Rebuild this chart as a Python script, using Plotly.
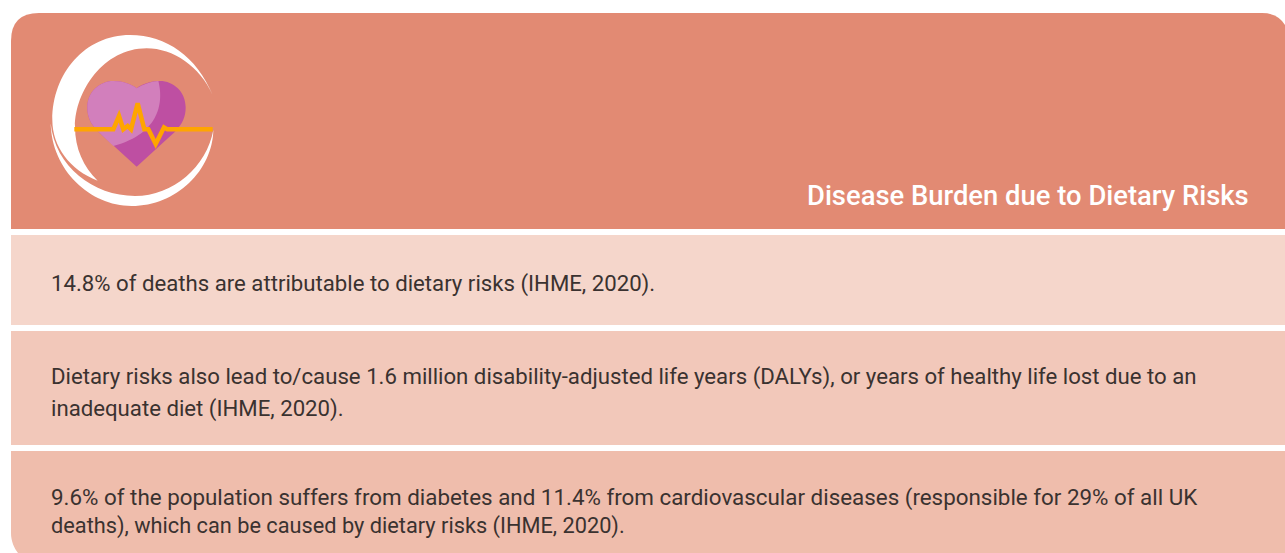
import plotly.graph_objects as go

W, H = 1285, 553
TITLE = "Disease Burden due to Dietary Risks"
ROW_LINES = [
    ["14.8% of deaths are attributable to dietary risks (IHME, 2020)."],
    ["Dietary risks also lead to/cause 1.6 million disability-adjusted life years (DALYs), or years of healthy life lost due to an",
     "inadequate diet (IHME, 2020)."],
    ["9.6% of the population suffers from diabetes and 11.4% from cardiovascular diseases (responsible for 29% of all UK",
     "deaths), which can be caused by dietary risks (IHME, 2020)."],
]
ROW_BASE_Y = [[283], [376, 408], [497, 526]]
ROW_SIZES = [[22.2], [22.2, 22.2], [22.38, 21.75]]
FONT = "Roboto"

def icon_path(cmds):
    # icon drawn on a 3x grid with origin at (30, 20)
    out = []
    for c in cmds:
        out.append(c[0] + " " + " ".join(f"{30 + c[i] / 3:.2f},{20 + c[i + 1] / 3:.2f}" for i in range(1, len(c), 2)))
    return " ".join(out) + " Z"

def shape(path, color):
    return dict(type="path", path=path, fillcolor=color, line=dict(width=0), layer="below")

shapes = [
    shape("M 11,229 L 11,41 Q 11,13 39,13 L 1262,13 Q 1278,13 1285,25 L 1285,229 Z", "#E28A73"),
    shape("M 11,235 L 1285,235 L 1285,325 L 11,325 Z", "#F5D6CB"),
    shape("M 11,331 L 1285,331 L 1285,445 L 11,445 Z", "#F2C8BA"),
    shape("M 11,451 L 1285,451 L 1285,553 L 18,553 C 14,548 11,541 11,533 Z", "#EFBDAC"),
    shape(icon_path([("M", 548, 225), ("C", 500, 110, 410, 45, 300, 45), ("C", 165, 45, 67, 160, 67, 300),
                     ("C", 67, 380, 120, 450, 203, 482), ("C", 160, 440, 135, 385, 135, 320),
                     ("C", 135, 215, 220, 85, 350, 85), ("C", 430, 85, 510, 140, 548, 225)]), "#FFFFFF"),
    shape(icon_path([("M", 62, 310), ("C", 65, 450, 180, 558, 305, 558), ("C", 440, 558, 548, 450, 550, 330),
                     ("C", 530, 440, 430, 528, 315, 528), ("C", 190, 528, 75, 440, 62, 310)]), "#FFFFFF"),
    shape(icon_path([("M", 320, 440), ("L", 205, 335), ("C", 180, 310, 172, 290, 172, 262),
                     ("C", 172, 215, 210, 183, 250, 183), ("C", 280, 183, 305, 193, 320, 205),
                     ("C", 335, 193, 360, 183, 390, 183), ("C", 430, 183, 467, 215, 467, 262),
                     ("C", 467, 290, 458, 312, 435, 335)]), "#BE4FA2"),
    shape(icon_path([("M", 250, 378), ("L", 205, 335), ("C", 180, 310, 172, 290, 172, 262),
                     ("C", 172, 215, 210, 183, 250, 183), ("C", 280, 183, 305, 193, 320, 205),
                     ("C", 340, 193, 360, 185, 385, 183), ("C", 400, 240, 395, 340, 250, 378)]), "#D27FBC"),
]
ecg = [(133,328),(250,328),(267,288),(280,328),(293,318),(303,328),(323,250),(343,328),(355,328),(377,372),(402,322),(412,328),(548,328)]
shapes.append(dict(type="path", layer="below",
                   path="M " + " L ".join(f"{30 + x / 3:.2f},{20 + y / 3:.2f}" for x, y in ecg),
                   line=dict(color="#FFA500", width=4.5)))

ann = [dict(x=1251, y=196, xref="x", yref="y", text=TITLE, showarrow=False, xanchor="right", yanchor="middle",
            font=dict(family=FONT, size=27.4, weight=500, color="#FFFFFF"))]
for lines, ys, sizes in zip(ROW_LINES, ROW_BASE_Y, ROW_SIZES):
    for t, y, s in zip(lines, ys, sizes):
        ann.append(dict(x=49, y=y, xref="x", yref="y", text=t, showarrow=False, xanchor="left", yanchor="middle",
                        font=dict(family=FONT, size=s, color="#3A3230")))

fig = go.Figure()
fig.update_layout(width=W, height=H, margin=dict(l=0, r=0, t=0, b=0), paper_bgcolor="#FFFFFF", plot_bgcolor="#FFFFFF",
                  showlegend=False, shapes=shapes, annotations=ann,
                  xaxis=dict(range=[0, W], visible=False, fixedrange=True),
                  yaxis=dict(range=[H, 0], visible=False, fixedrange=True))
fig.write_html("out.html", config={"displayModeBar": False},
               post_script="document.body.style.margin='0';document.body.style.overflow='hidden';")
